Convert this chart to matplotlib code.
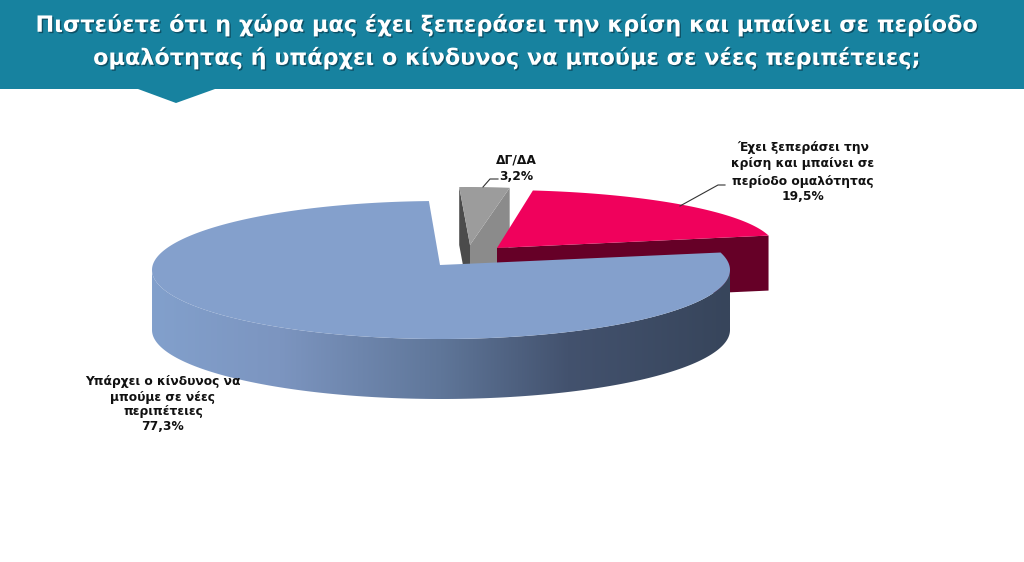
import numpy as np
import matplotlib
matplotlib.use("Agg")
import matplotlib.pyplot as plt
import matplotlib.patheffects as pe
from matplotlib.colors import LinearSegmentedColormap
from matplotlib.patches import Polygon

title_lines = [
    "Πιστεύετε ότι η χώρα μας έχει ξεπεράσει την κρίση και μπαίνει σε περίοδο",
    "ομαλότητας ή υπάρχει ο κίνδυνος να μπούμε σε νέες περιπέτειες;",
]
categories = [
    ["Υπάρχει ο κίνδυνος να", "μπούμε σε νέες", "περιπέτειες"],
    ["Έχει ξεπεράσει την", "κρίση και μπαίνει σε", "περίοδο ομαλότητας"],
    ["ΔΓ/ΔΑ"],
]
values = [77.3, 19.5, 3.2]

plt.rcParams["font.family"] = ["DejaVu Sans"]

fig = plt.figure(figsize=(10.24, 5.62), dpi=100)
ax = fig.add_axes([0, 0, 1, 1])
ax.set_xlim(0, 1024)
ax.set_ylim(562, 0)
ax.axis("off")

# header band
teal = "#17829f"
ax.fill([0, 1024, 1024, 0], [0, 0, 89, 89], color=teal, lw=0)
ax.fill([138, 215, 176], [89, 89, 103], color=teal, lw=0)
for line, y in zip(title_lines, [25, 58]):
    ax.text(508, y, line, color="white", fontsize=16.1, fontweight="bold",
            ha="center", va="center",
            path_effects=[pe.withSimplePatchShadow(offset=(1, -1), shadow_rgbFace="#0b4458", alpha=0.8)])

# slice angles, counter clockwise, from the values
spans = np.array(values) / 100 * 360
blue_start = 92.4
blue_end = blue_start + spans[0] + 4  # view perspective pulls the corner round
pink_start = blue_start + spans[0] - 360 + 1.7
pink_end = pink_start + spans[1]
grey_end = 92.0
grey_start = grey_end - spans[2]


def arc(cx, cy, rx, ry, t0, t1, n=200):
    t = np.radians(np.linspace(t0, t1, n))
    return cx + rx * np.cos(t), cy - ry * np.sin(t)


# grey slice
gx, gy = arc(468, 245, 252, 58, grey_start, grey_end)
depth = 58
ax.fill([470, gx[0], gx[0], 470], [245, gy[0], gy[0] + depth, 245 + depth], color="#8b8b8b", lw=0)
ax.fill([470, gx[-1], gx[-1], 470], [245, gy[-1], gy[-1] + depth, 245 + depth], color="#4b4b4b", lw=0)
ax.fill(np.r_[470, gx], np.r_[245, gy], color="#9c9c9c", lw=0)

# pink slice
px, py = arc(497, 248, 278, 58, pink_start, pink_end)
depth = 55
ax.fill([497, px[0], px[0], 497], [248, py[0], py[0] + depth, 248 + depth], color="#660027", lw=0)
ax.fill(np.r_[497, px], np.r_[248, py], color="#f0015c", lw=0)

# blue slice: wall with a left to right shading, then the top
depth = 60
bx, by = arc(441, 270, 289, 69, 180, 360)
wall = np.c_[np.r_[bx, bx[::-1]], np.r_[by, by[::-1] + depth]]
shade = LinearSegmentedColormap.from_list(
    "wall", [(0, "#82a0cc"), (0.22, "#7c95c0"), (0.5, "#5f7699"), (0.72, "#43526e"), (1, "#37455b")])
img = ax.imshow(np.linspace(0, 1, 256)[None, :], cmap=shade, aspect="auto",
                extent=(152, 730, 400, 200), zorder=2)
clip = Polygon(wall, transform=ax.transData, fc="none", ec="none")
ax.add_patch(clip)
img.set_clip_path(clip)
ax.set_xlim(0, 1024)
ax.set_ylim(562, 0)

tx, ty = arc(441, 270, 289, 69, blue_start, blue_end, 400)
ax.fill(np.r_[440, tx], np.r_[265, ty], color="#84a0cc", lw=0, zorder=3)

# labels and leader lines
label_style = dict(color="#111111", fontsize=8.8, fontweight="bold", ha="center", va="center", zorder=5)
blue_lines = categories[0] + [f"{values[0]:.1f}%".replace(".", ",")]
pink_lines = categories[1] + [f"{values[1]:.1f}%".replace(".", ",")]
grey_lines = categories[2] + [f"{values[2]:.1f}%".replace(".", ",")]
for line, y in zip(blue_lines, [381, 397, 412, 427]):
    ax.text(163, y, line, **label_style)
for line, y in zip(pink_lines, [148, 164, 181, 196]):
    ax.text(803, y, line, **label_style)
for line, y in zip(grey_lines, [160, 176]):
    ax.text(516, y, line, **label_style)

ax.plot([483, 490, 498], [187, 179, 179], color="#333333", lw=0.8, zorder=4)
ax.plot([680, 718, 725], [206, 185, 185], color="#333333", lw=0.8, zorder=4)

fig.savefig("out.png", dpi=100, facecolor="white")
